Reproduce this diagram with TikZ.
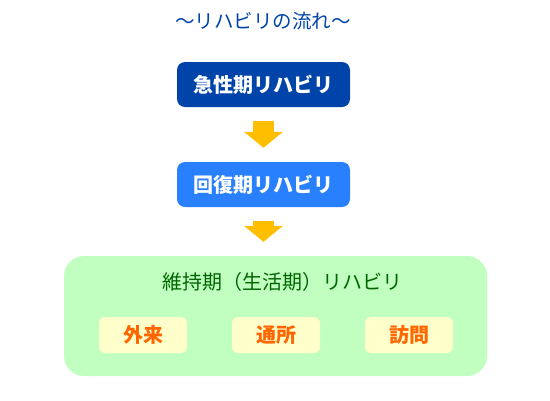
\documentclass[tikz,border=0pt]{standalone}
\usepackage{fontspec}
\setmainfont{Noto Sans CJK JP}
\usetikzlibrary{arrows.meta}

\definecolor{darkblue}{RGB}{0,68,170}
\definecolor{midblue}{RGB}{41,128,255}
\definecolor{arrowyellow}{RGB}{255,190,0}
\definecolor{lightgreen}{RGB}{192,255,192}
\definecolor{darkgreen}{RGB}{0,102,0}
\definecolor{lightyellow}{RGB}{255,255,204}
\definecolor{textorange}{RGB}{255,102,0}

\tikzset{
  stagebox/.style={rounded corners=8pt, minimum width=173pt, minimum height=45pt,
    text=white, font=\fontsize{20}{20}\selectfont\bfseries},
  placebox/.style={rounded corners=6pt, fill=lightyellow, minimum width=88pt,
    minimum height=36pt, text=textorange, font=\fontsize{20}{20}\selectfont\bfseries},
  flowarrow/.style={arrowyellow, line width=21pt,
    -{Triangle[width=39pt,length=16pt,line width=0pt]},
    shorten <=14pt, shorten >=14pt}
}

\begin{document}
\begin{tikzpicture}[x=1pt, y=-1pt]
\useasboundingbox (0,0) rectangle (550,400);
\node [text=darkblue, font=\fontsize{19.5}{19.5}\selectfont] (title) at (263,21) {～リハビリの流れ～};
\node [stagebox, fill=darkblue] (acute) at (263.5,84.5) {急性期リハビリ};
\node [stagebox, fill=midblue] (recovery) at (263.5,184.5) {回復期リハビリ};
\node [rounded corners=20pt, fill=lightgreen, minimum width=423pt, minimum height=120pt] (life) at (275.5,316) {};
\node [text=darkgreen, font=\fontsize{20}{20}\selectfont] (lifetitle) at (282.5,282) {維持期（生活期）リハビリ};
\node [placebox] (outpatient) at (143,335) {外来};
\node [placebox] (daycare) at (276,335) {通所};
\node [placebox] (visit) at (409,335) {訪問};
\draw [flowarrow] (acute.south) -- (recovery.north);
\draw [flowarrow] (recovery.south) -- (recovery.south |- life.north);
\end{tikzpicture}
\end{document}
